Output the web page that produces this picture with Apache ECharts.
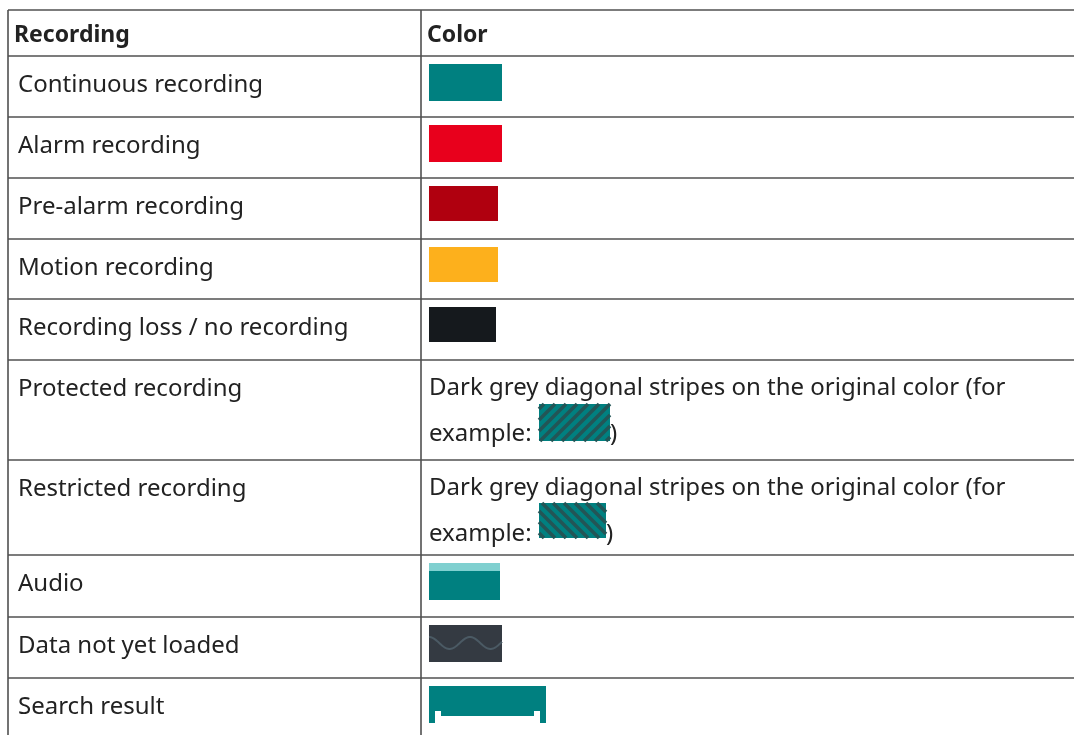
<!DOCTYPE html>
<html>
<head>
<meta charset="utf-8">
<script src="https://cdn.jsdelivr.net/npm/echarts@6/dist/echarts.min.js"></script>
<style>
  html, body { margin: 0; background: #fff; }
  #main { width: 1074px; height: 735px; }
</style>
</head>
<body>
<div id="main"></div>
<script>
// table content
const headers = ['Recording', 'Color'];
const recordings = [
  'Continuous recording',
  'Alarm recording',
  'Pre-alarm recording',
  'Motion recording',
  'Recording loss / no recording',
  'Protected recording',
  'Restricted recording',
  'Audio',
  'Data not yet loaded',
  'Search result'
];
const swatchColors = ['#008080', '#e8001c', '#b0000f', '#fdb01c', '#15191d',
  '#008080', '#008080', '#008080', '#343a42', '#008080'];
const swatchKinds = ['plain', 'plain', 'plain', 'plain', 'plain',
  'stripeUp', 'stripeDown', 'audio', 'wave', 'search'];
const stripeNote = ['Dark grey diagonal stripes on the original color (for', 'example: ', ')'];

// layout (pixels)
const rowTops = [56, 117, 178, 239, 299, 360, 460, 555, 617, 678, 760];
const headerTop = 10;
const swatchW = [73, 73, 69, 69, 67, 71, 67, 71, 73, 117];
const swatchH = [37, 37, 35, 35, 35, 37, 35, 37, 37, 37];
const tableLeft = 8, colX = 421, tableRight = 1074;
const lineColor = '#505050';
const textColor = '#222';
const fontFamily = '"Noto Sans", "DejaVu Sans", sans-serif';

function txt(p, s, bold, size) {
  return {
    type: 'text',
    style: {
      x: p[0], y: p[1], text: s, fill: textColor,
      fontSize: size || 24, fontFamily: fontFamily, fontWeight: bold ? 'bold' : 'normal',
      verticalAlign: 'middle', align: 'left'
    }
  };
}
function hline(a, b) {
  return { type: 'line', shape: { x1: a[0], y1: a[1], x2: b[0], y2: b[1] },
    style: { stroke: lineColor, lineWidth: 1.6 } };
}
function rect(p, w, h, fill) {
  return { type: 'rect', shape: { x: p[0], y: p[1], width: w, height: h }, style: { fill: fill } };
}

function stripes(x0, y0, w, h, up) {
  const x1 = x0 + w, y1 = y0 + h, out = [];
  const step = 11;
  const st = { stroke: '#235556', lineWidth: 3.5 };
  if (up) {
    for (let c = x0 + y0 + 5; c < x1 + y1; c += step) {
      const a = Math.max(x0, c - y1), b = Math.min(x1, c - y0);
      if (b > a) out.push({ type: 'line', shape: { x1: a, y1: c - a, x2: b, y2: c - b }, style: st });
    }
  } else {
    for (let c = x0 - y1 + 5; c < x1 - y0; c += step) {
      const a = Math.max(x0, c + y0), b = Math.min(x1, c + y1);
      if (b > a) out.push({ type: 'line', shape: { x1: a, y1: a - c, x2: b, y2: b - c }, style: st });
    }
  }
  return out;
}

function renderRow(params, api) {
  const i = api.value(1);
  const top = rowTops[i], bottom = rowTops[i + 1];
  const pTL = api.coord([tableLeft, top]);
  const pTR = api.coord([tableRight, top]);
  const pBL = api.coord([tableLeft, bottom]);
  const pC = api.coord([colX, top]);
  const pCB = api.coord([colX, bottom]);
  const children = [hline(pTL, pTR), hline(pTL, pBL), hline(pC, pCB)];
  children.push(txt(api.coord([18, top + 29]), recordings[i], false));

  const kind = swatchKinds[i];
  const col = swatchColors[i];
  const w = swatchW[i], h = swatchH[i];
  if (kind === 'stripeUp' || kind === 'stripeDown') {
    children.push(txt(api.coord([429, top + 28]), stripeNote[0], false));
    children.push(txt(api.coord([429, top + 74]), stripeNote[1], false));
    const s = api.coord([539, top + 44 - (kind === 'stripeDown' ? 1 : 0)]);
    children.push(rect(s, w, h, col));
    children.push.apply(children, stripes(s[0], s[1], w, h, kind === 'stripeUp'));
    children.push(txt(api.coord([539 + w, top + 74]), stripeNote[2], false));
  } else {
    const s = api.coord([429, top + 8]);
    children.push(rect(s, w, h, col));
    if (kind === 'audio') {
      children.push(rect(s, w, 8, '#80d0d0'));
    } else if (kind === 'wave') {
      const pts = [];
      for (let x = 0; x <= w; x += 1) {
        pts.push([s[0] + x, s[1] + 18 - 6 * Math.cos(x / 41 * 2 * Math.PI)]);
      }
      children.push({ type: 'polyline', shape: { points: pts },
        style: { stroke: '#4b5a64', lineWidth: 2, fill: null } });
    } else if (kind === 'search') {
      children.push(rect([s[0] + 6, s[1] + 30], w - 12, 7, '#ffffff'));
      children.push(rect([s[0] + 6, s[1] + 25], 6, 6, '#ffffff'));
      children.push(rect([s[0] + w - 12, s[1] + 25], 6, 6, '#ffffff'));
    }
  }
  return { type: 'group', children: children };
}

function renderHeader(params, api) {
  const top = headerTop, bottom = rowTops[0];
  const pTL = api.coord([tableLeft, top]);
  return {
    type: 'group',
    children: [
      hline(pTL, api.coord([tableRight, top])),
      hline(pTL, api.coord([tableLeft, bottom])),
      hline(api.coord([colX, top]), api.coord([colX, bottom])),
      txt(api.coord([14, top + 25]), headers[0], true, 23),
      txt(api.coord([427, top + 25]), headers[1], true, 23)
    ]
  };
}

const chart = echarts.init(document.getElementById('main'));
chart.setOption({
  animation: false,
  grid: { left: 0, right: 0, top: 0, bottom: 0 },
  xAxis: { type: 'value', min: 0, max: 1074, show: false },
  yAxis: { type: 'value', min: 0, max: 735, inverse: true, show: false },
  series: [
    {
      type: 'custom', clip: false,
      renderItem: renderHeader,
      data: [[0, 0]]
    },
    {
      type: 'custom', clip: false,
      renderItem: renderRow,
      data: recordings.map((r, i) => [0, i])
    }
  ]
});
</script>
</body>
</html>
